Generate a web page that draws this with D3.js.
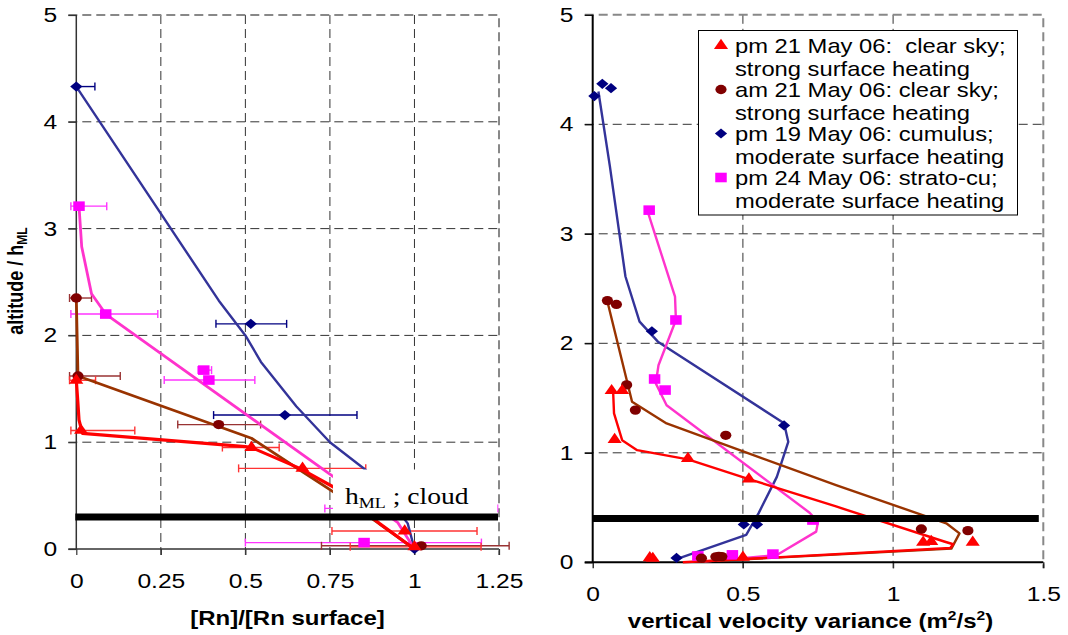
<!DOCTYPE html>
<html>
<head>
<meta charset="utf-8">
<script src="https://cdn.jsdelivr.net/npm/d3@7"></script>
<style>
  body { margin: 0; background: #fff; }
  text { font-family: "Liberation Sans", Arial, sans-serif; }
</style>
</head>
<body>
<svg id="chart" width="1068" height="635"></svg>
<script>
// Rn profiles (left) and vertical velocity variance profiles (right)

// ---- data ----
const altTicks = [0, 1, 2, 3, 4, 5]
const rnTicks = [0, 0.25, 0.5, 0.75, 1, 1.25]
const wTicks = [0, 0.5, 1, 1.5]

// left panel points: [Rn ratio, altitude / hML, error low, error high]
const rnPm21 = [[0, 1.58, -0.02, 0.057], [0.014, 1.11, -0.016, 0.173], [0.518, 0.95, 0.432, 0.6],
  [0.669, 0.755, 0.48, 0.856], [0.971, 0.168, 0.756, 1.185], [1.0, 0.02, 0.81, 1.197]]
const rnAm21 = [[0, 2.35, -0.02, 0.045], [0.005, 1.62, -0.02, 0.13], [0.421, 1.165, 0.3, 0.545],
  [1.02, 0.03, 0.725, 1.28]]
const rnPm19 = [[0, 4.33, 0, 0.055], [0.516, 2.108, 0.413, 0.622], [0.617, 1.254, 0.406, 0.83],
  [1.0, 0.0, 1.0, 1.0]]
const rnPm24 = [[0.008, 3.21, -0.016, 0.09], [0.087, 2.2, -0.016, 0.241], [0.377, 1.675, 0.36, 0.4],
  [0.392, 1.582, 0.26, 0.528], [0.99, 0.38, 0.735, 1.246], [0.851, 0.06, 0.5, 1.198]]

// left panel profile lines: [Rn ratio, altitude / hML]
const rnPm21Fit = [[0, 1.58], [0.004, 1.4], [0.008, 1.21], [0.018, 1.083], [0.5, 0.958], [0.518, 0.95],
  [0.661, 0.755], [0.759, 0.583], [0.896, 0.24], [1.0, 0.0]]
const rnAm21Fit = [[0, 2.35], [0.005, 1.62], [0.518, 1.037], [0.661, 0.74], [0.759, 0.537],
  [0.887, 0.256], [1.0, 0.0]]
const rnPm19Fit = [[0, 4.33], [0.4215, 2.325], [0.5, 2.0], [0.546, 1.752], [0.651, 1.334], [0.75, 1.0],
  [0.856, 0.74], [0.98, 0.24], [1.0, 0.0]]
const rnPm24Fit = [[0.008, 3.21], [0.016, 2.83], [0.045, 2.39], [0.087, 2.2], [0.757, 0.684],
  [0.95, 0.25], [1.0, 0.0]]

// right panel points: [variance, altitude / hML]
const wPm21 = [[0.063, 1.567], [0.098, 1.567], [0.073, 1.12], [0.317, 0.948], [0.52, 0.76],
  [1.1, 0.182], [1.127, 0.19], [1.265, 0.182], [0.19, 0.04], [0.2, 0.035], [0.5, 0.045]]
const wAm21 = [[0.049, 2.39], [0.079, 2.355], [0.113, 1.62], [0.142, 1.39], [0.443, 1.16],
  [1.094, 0.304], [1.249, 0.289], [0.362, 0.037], [0.41, 0.05], [0.42, 0.055], [0.43, 0.052]]
const wPm19 = [[0.0055, 4.258], [0.032, 4.37], [0.061, 4.33], [0.197, 2.11], [0.637, 1.25],
  [0.503, 0.346], [0.547, 0.346], [0.279, 0.04]]
const wPm24 = [[0.188, 3.216], [0.277, 2.213], [0.206, 1.674], [0.241, 1.573], [0.733, 0.386],
  [0.6, 0.075], [0.465, 0.068], [0.35, 0.058]]

// right panel profile lines
const wPm21Fit = [[0.068, 1.56], [0.071, 1.36], [0.098, 1.115], [0.148, 1.024], [0.317, 0.94],
  [0.52, 0.76], [0.81, 0.51], [1.17, 0.19], [1.2, 0.165], [1.19, 0.13], [0.3, 0.0]]
const wAm21Fit = [[0.05, 2.37], [0.131, 1.466], [0.246, 1.268], [0.503, 1.01], [0.81, 0.705],
  [1.177, 0.356], [1.221, 0.264], [1.194, 0.125], [0.356, 0.006]]
const wPm19Fit = [[0.019, 4.3], [0.057, 3.62], [0.109, 2.61], [0.156, 2.198], [0.217, 2.015],
  [0.637, 1.27], [0.651, 1.1], [0.613, 0.78], [0.552, 0.447], [0.511, 0.25], [0.279, 0.03]]
const wPm24Fit = [[0.181, 3.22], [0.274, 2.427], [0.277, 2.213], [0.219, 1.8], [0.21, 1.634],
  [0.246, 1.435], [0.722, 0.453], [0.75, 0.37], [0.744, 0.28], [0.613, 0.067], [0.372, 0.006]]

// mixed layer / cloud marker level
const mlLeft = 0.3
const mlRight = 0.4
const mlRightEnd = 1.485

const legendLines = [
  ['pm 21 May 06:  clear sky;', 'strong surface heating'],
  ['am 21 May 06: clear sky;', 'strong surface heating'],
  ['pm 19 May 06: cumulus;', 'moderate surface heating'],
  ['pm 24 May 06: strato-cu;', 'moderate surface heating']
]

// ---- styles ----
const series = [
  { name: 'pm21', sym: 'triangle', mark: '#ff0000', line: '#ff0000', err: '#ff3333', lw: 3.2,
    rn: rnPm21, rnFit: rnPm21Fit, w: wPm21, wFit: wPm21Fit },
  { name: 'am21', sym: 'circle', mark: '#800000', line: '#993300', err: '#993333', lw: 2.8,
    rn: rnAm21, rnFit: rnAm21Fit, w: wAm21, wFit: wAm21Fit },
  { name: 'pm19', sym: 'diamond', mark: '#000080', line: '#333399', err: '#000080', lw: 2.4,
    rn: rnPm19, rnFit: rnPm19Fit, w: wPm19, wFit: wPm19Fit },
  { name: 'pm24', sym: 'square', mark: '#ff00ff', line: '#ff33cc', err: '#ff33ff', lw: 2.8,
    rn: rnPm24, rnFit: rnPm24Fit, w: wPm24, wFit: wPm24Fit }
]
const drawOrder = [2, 3, 1, 0]

const SX = 1.2 // the original picture is stretched horizontally

const symbols = {
  triangle: d3.symbol(d3.symbolTriangle, 60),
  circle: d3.symbol(d3.symbolCircle, 68),
  diamond: d3.symbol(d3.symbolSquare, 52),
  square: d3.symbol(d3.symbolSquare, 92)
}

const svg = d3.select('#chart')

const xL = d3.scaleLinear().domain([0, 1.25]).range([76.3, 499])
const yL = d3.scaleLinear().domain([0, 5]).range([549, 15])
const xR = d3.scaleLinear().domain([0, 1.5]).range([592.7, 1043.3])
const yR = d3.scaleLinear().domain([0, 5]).range([562.3, 14.8])

function stretchText (g, x, y, str) {
  return g.append('text')
    .attr('transform', 'translate(' + x + ',' + y + ') scale(' + SX + ',1)')
    .text(str)
}

function frame (g, x, y, xTicks, axisColor, axisWidth) {
  let [x0, x1] = x.range()
  let [y0, y1] = y.range()
  let tickDown = 6

  // Gridlines
  g.append('g').selectAll('line')
    .data(xTicks.slice(1, -1))
    .join('line')
    .attr('x1', d => x(d)).attr('x2', d => x(d))
    .attr('y1', y1).attr('y2', y0 + tickDown)
    .attr('stroke', '#333').attr('stroke-dasharray', '9,5')

  g.append('g').selectAll('line')
    .data(altTicks.slice(1, -1))
    .join('line')
    .attr('x1', x0 - 8).attr('x2', x1)
    .attr('y1', d => y(d)).attr('y2', d => y(d))
    .attr('stroke', '#333').attr('stroke-dasharray', '9,5')

  // Plot area border (top, right)
  g.append('path')
    .attr('d', 'M' + (x0 - 8) + ',' + y1 + 'H' + x1 + 'V' + (y0 + tickDown))
    .attr('fill', 'none')
    .attr('stroke', '#888')
    .attr('stroke-width', 2)
    .attr('stroke-dasharray', '9,5')

  // Axes
  let yAxis = d3.axisLeft(y)
    .tickValues(altTicks)
    .tickSize(8)
    .tickPadding(8)
    .tickSizeOuter(0)
    .tickFormat(d => String(d))

  let xAxis = d3.axisBottom(x)
    .tickValues(xTicks)
    .tickSize(tickDown)
    .tickPadding(18)
    .tickSizeOuter(0)
    .tickFormat(d => String(d))

  let ga = g.append('g')
    .attr('transform', 'translate(' + x0 + ',0)')
    .call(yAxis)
  let gb = g.append('g')
    .attr('transform', 'translate(0,' + y0 + ')')
    .call(xAxis)

  for (let a of [ga, gb]) {
    a.select('.domain').remove()
    a.selectAll('line').attr('stroke', axisColor).attr('stroke-width', 1.2)
    a.selectAll('text')
      .attr('fill', '#000')
      .style('font-size', '20.5px')
      .style('font-family', '"Liberation Sans", Arial, sans-serif')
      .attr('transform', 'scale(' + SX + ',1)')
  }
  gb.selectAll('.tick line').filter(d => d !== 0 && d !== xTicks[xTicks.length - 1])
    .attr('stroke', '#333').attr('stroke-dasharray', '9,5')

  g.append('line')
    .attr('x1', x0).attr('x2', x0).attr('y1', y1).attr('y2', y0)
    .attr('stroke', axisColor).attr('stroke-width', axisWidth)
  g.append('line')
    .attr('x1', x0 - 8).attr('x2', x1).attr('y1', y0).attr('y2', y0)
    .attr('stroke', axisColor).attr('stroke-width', axisWidth)
}

function markers (g, pts, x, y, s) {
  g.append('g').selectAll('path')
    .data(pts)
    .join('path')
    .attr('d', symbols[s.sym])
    .attr('transform', d => 'translate(' + x(d[0]) + ',' + y(d[1]) + ') scale(' + SX + ',1)' +
      (s.sym === 'diamond' ? ' rotate(45)' : ''))
    .attr('fill', s.mark)
}

function profile (g, pts, x, y, color, width) {
  let line = d3.line()
    .x(d => x(d[0]))
    .y(d => y(d[1]))
  g.append('path')
    .datum(pts)
    .attr('d', line)
    .attr('fill', 'none')
    .attr('stroke', color)
    .attr('stroke-width', width)
    .attr('stroke-linejoin', 'round')
}

// ---- left panel ----
let left = svg.append('g')
frame(left, xL, yL, rnTicks, '#333', 1.5)

// Error bars
for (let i of drawOrder) {
  let s = series[i]
  let eb = left.append('g')
    .attr('stroke', s.err)
    .attr('stroke-width', 1.4)
  let bars = eb.selectAll('g')
    .data(s.rn.filter(d => d[3] > d[2]))
    .join('g')
  bars.append('line')
    .attr('x1', d => xL(d[2])).attr('x2', d => xL(d[3]))
    .attr('y1', d => yL(d[1])).attr('y2', d => yL(d[1]))
  bars.append('line')
    .attr('x1', d => xL(d[2])).attr('x2', d => xL(d[2]))
    .attr('y1', d => yL(d[1]) - 4).attr('y2', d => yL(d[1]) + 4)
  bars.append('line')
    .attr('x1', d => xL(d[3])).attr('x2', d => xL(d[3]))
    .attr('y1', d => yL(d[1]) - 4).attr('y2', d => yL(d[1]) + 4)
}
for (let i of drawOrder) {
  let s = series[i]
  profile(left, s.rnFit, xL, yL, s.line, s.lw)
}
for (let i of drawOrder) {
  markers(left, series[i].rn, xL, yL, series[i])
}

// Label box covering the profiles near the top of the mixed layer
left.append('rect')
  .attr('x', xL(0.759))
  .attr('y', 469.5)
  .attr('width', xL(1.245) - xL(0.759))
  .attr('height', yL(mlLeft) - 469.5)
  .attr('fill', '#fff')

let cloud = left.append('text')
  .attr('transform', 'translate(345,504) scale(' + SX + ',1)')
  .style('font-family', '"Liberation Serif", "Times New Roman", serif')
  .style('font-size', '23px')
cloud.append('tspan').text('h')
cloud.append('tspan').attr('dy', 4).style('font-size', '15px').text('ML')
cloud.append('tspan').attr('dy', -4).text(' ; cloud')

left.append('line')
  .attr('x1', xL(0) - 1).attr('x2', xL(1.25) - 1)
  .attr('y1', yL(mlLeft)).attr('y2', yL(mlLeft))
  .attr('stroke', '#000').attr('stroke-width', 7)

// Axis titles
let yt = left.append('text')
  .attr('transform', 'translate(23,281) scale(' + SX + ',1) rotate(-90)')
  .attr('text-anchor', 'middle')
  .style('font-weight', 'bold')
  .style('font-size', '18px')
yt.append('tspan').text('altitude / h')
yt.append('tspan').attr('dy', 3).style('font-size', '12px').text('ML')

stretchText(left, 287.5, 625, '[Rn]/[Rn surface]')
  .attr('text-anchor', 'middle')
  .style('font-weight', 'bold')
  .style('font-size', '20px')

// ---- right panel ----
let right = svg.append('g')
frame(right, xR, yR, wTicks, '#000', 2)

for (let i of drawOrder) {
  let s = series[i]
  profile(right, s.wFit, xR, yR, s.line, 2.4)
}
for (let i of drawOrder) {
  markers(right, series[i].w, xR, yR, series[i])
}

right.append('line')
  .attr('x1', xR(0)).attr('x2', xR(mlRightEnd))
  .attr('y1', yR(mlRight)).attr('y2', yR(mlRight))
  .attr('stroke', '#000').attr('stroke-width', 7)

let xt = right.append('text')
  .attr('transform', 'translate(810.5,628) scale(' + SX + ',1)')
  .attr('text-anchor', 'middle')
  .style('font-weight', 'bold')
  .style('font-size', '20px')
xt.append('tspan').text('vertical velocity variance (m')
xt.append('tspan').attr('dy', -8).style('font-size', '13px').text('2')
xt.append('tspan').attr('dy', 8).text('/s')
xt.append('tspan').attr('dy', -8).style('font-size', '13px').text('2')
xt.append('tspan').attr('dy', 8).text(')')

// Legend
let legend = right.append('g')
legend.append('rect')
  .attr('x', 698.5).attr('y', 30.5)
  .attr('width', 319).attr('height', 184.5)
  .attr('fill', '#fff')
  .attr('stroke', '#000')
  .attr('stroke-width', 1)

legendLines.forEach((lines, i) => {
  let s = series[i]
  let base = 52.5 + 44 * i
  legend.append('path')
    .attr('d', symbols[s.sym])
    .attr('transform', 'translate(721,' + (base - 7) + ') scale(' + SX + ',1)' +
      (s.sym === 'diamond' ? ' rotate(45)' : ''))
    .attr('fill', s.mark)
  stretchText(legend, 735, base, lines[0]).style('font-size', '19.8px').style('white-space', 'pre')
  stretchText(legend, 735, base + 23.3, lines[1]).style('font-size', '19.8px')
})
</script>
</body>
</html>
